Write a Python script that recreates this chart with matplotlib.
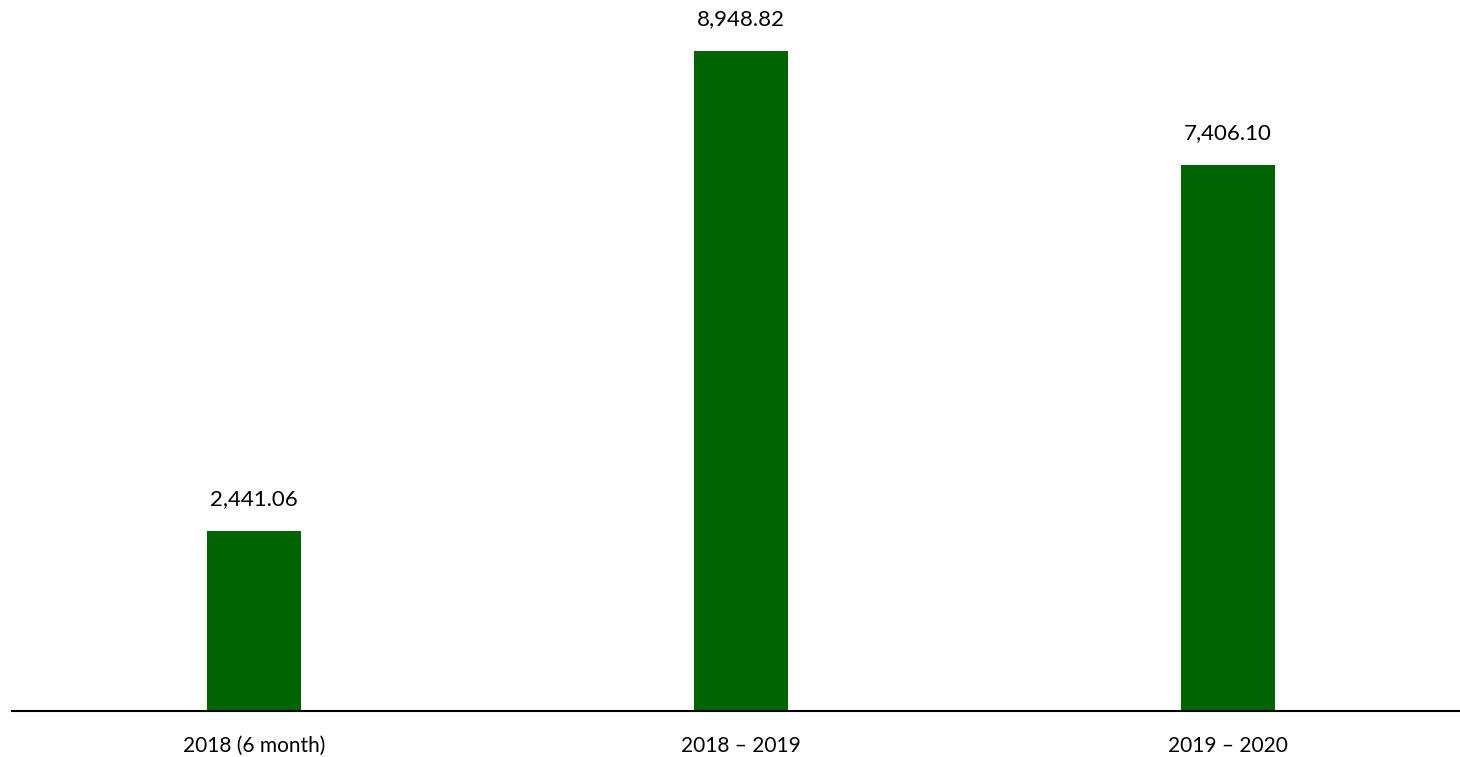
import matplotlib
matplotlib.use("Agg")
import matplotlib.pyplot as plt

# data
periods = ["2018 (6 month)", "2018 \u2013 2019", "2019 \u2013 2020"]
values = [2441.06, 8948.82, 7406.10]

plt.rcParams['font.family'] = ['Lato', 'DejaVu Sans']

fig = plt.figure(figsize=(14.6, 7.57), dpi=100)
ax = fig.add_axes([12 / 1460, 46 / 757, 1448 / 1460, 711 / 757])

x = range(len(periods))
bars = ax.bar(x, values, width=0.193, color='#006400')

# value labels above bars
for xi, v in zip(x, values):
    ax.text(xi, v + 300, f"{v:,.2f}", ha='center', va='bottom', fontsize=16)

ax.set_xlim(-0.497, 2.476)
ax.set_ylim(0, 9640)
ax.set_xticks(list(x))
ax.set_xticklabels(periods, fontsize=15)
ax.tick_params(axis='x', length=0, pad=18)
ax.set_yticks([])

for side in ['top', 'right', 'left']:
    ax.spines[side].set_visible(False)
ax.spines['bottom'].set_linewidth(1.5)

fig.savefig("out.png", dpi=100)
